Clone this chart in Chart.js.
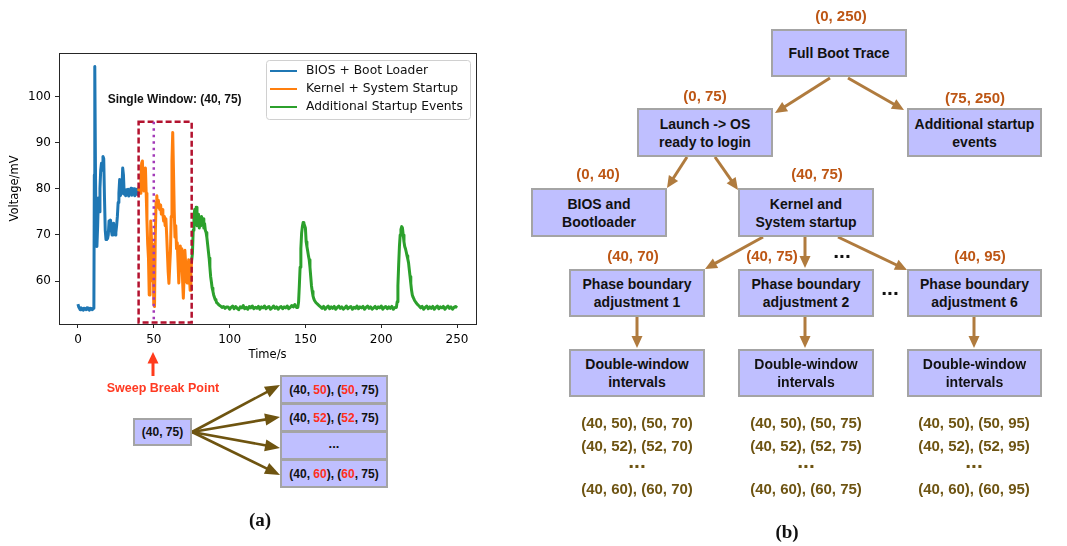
<!DOCTYPE html>
<html>
<head>
<meta charset="utf-8">
<script src="https://cdn.jsdelivr.net/npm/chart.js@4.4.0/dist/chart.umd.min.js"></script>
<style>
  html, body { margin: 0; padding: 0; background: #fff; }
  #fig { position: relative; width: 1067px; height: 546px; overflow: hidden;
         font-family: "Liberation Sans", Arial, Helvetica, sans-serif; }
  #trace { position: absolute; left: 0; top: 0; }
  #arrows { position: absolute; left: 0; top: 0; }
  .box { position: absolute; box-sizing: border-box; background: #bfbfff;
         border: 2.5px solid #a4a4a4; display: flex; align-items: center;
         justify-content: center; text-align: center; font-weight: bold;
         color: #111; font-size: 14px; line-height: 18px; }
  .mini { font-size: 12px; line-height: 14px; }
  .lbl { position: absolute; transform: translate(-50%, -50%); white-space: nowrap;
         font-weight: bold; line-height: 1; }
  .range { color: #bd5614; font-size: 15px; }
  .dots { color: #111; font-size: 21px; }
  .pairs { color: #6e5412; font-size: 15px; }
  .pdots { color: #6e5412; font-size: 21px; }
  .hot { color: #ff2f1c; }
  .panel { position: absolute; transform: translate(-50%, -50%); font-family: "Liberation Serif", "DejaVu Serif", serif;
           font-weight: bold; font-size: 19px; line-height: 1; color: #111; }
</style>
</head>
<body>
<div id="fig">
  <canvas id="trace" width="490" height="370"></canvas>
  <svg id="arrows" width="1067" height="546"></svg>

  <!-- sweep of the single window -->
  <div class="lbl" style="left:163px;top:388px;font-size:12.5px;color:#ff3a22;">Sweep Break Point</div>
  <div class="box mini" style="left:133px;top:418px;width:59px;height:28px;">(40, 75)</div>
  <div class="box mini" style="left:280px;top:375px;width:108px;height:29px;">(40,&nbsp;<span class="hot">50</span>),&nbsp;(<span class="hot">50</span>,&nbsp;75)</div>
  <div class="box mini" style="left:280px;top:403px;width:108px;height:29px;">(40,&nbsp;<span class="hot">52</span>),&nbsp;(<span class="hot">52</span>,&nbsp;75)</div>
  <div class="box mini" style="left:280px;top:431px;width:108px;height:29px;"><span style="position:relative;top:-2px;font-size:13px;">...</span></div>
  <div class="box mini" style="left:280px;top:459px;width:108px;height:29px;">(40,&nbsp;<span class="hot">60</span>),&nbsp;(<span class="hot">60</span>,&nbsp;75)</div>
  <div class="panel" style="left:260px;top:519px;">(a)</div>

  <!-- phase tree -->
  <div class="lbl range" style="left:841px;top:15px;">(0, 250)</div>
  <div class="box" style="left:771px;top:29px;width:136px;height:48px;">Full Boot Trace</div>

  <div class="lbl range" style="left:705px;top:95px;">(0, 75)</div>
  <div class="box" style="left:637px;top:108px;width:136px;height:49px;">Launch -&gt; OS<br>ready to login</div>
  <div class="lbl range" style="left:975px;top:97px;">(75, 250)</div>
  <div class="box" style="left:907px;top:108px;width:135px;height:49px;">Additional startup<br>events</div>

  <div class="lbl range" style="left:598px;top:173px;">(0, 40)</div>
  <div class="box" style="left:531px;top:188px;width:136px;height:49px;">BIOS and<br>Bootloader</div>
  <div class="lbl range" style="left:817px;top:173px;">(40, 75)</div>
  <div class="box" style="left:738px;top:188px;width:136px;height:49px;">Kernel and<br>System startup</div>

  <div class="lbl range" style="left:633px;top:255px;">(40, 70)</div>
  <div class="lbl range" style="left:772px;top:255px;">(40, 75)</div>
  <div class="lbl dots" style="left:842px;top:250px;">...</div>
  <div class="lbl range" style="left:980px;top:255px;">(40, 95)</div>

  <div class="box" style="left:569px;top:269px;width:136px;height:48px;">Phase boundary<br>adjustment 1</div>
  <div class="box" style="left:738px;top:269px;width:136px;height:48px;">Phase boundary<br>adjustment 2</div>
  <div class="lbl dots" style="left:890px;top:287px;">...</div>
  <div class="box" style="left:907px;top:269px;width:135px;height:48px;">Phase boundary<br>adjustment 6</div>

  <div class="box" style="left:569px;top:349px;width:136px;height:48px;">Double-window<br>intervals</div>
  <div class="box" style="left:738px;top:349px;width:136px;height:48px;">Double-window<br>intervals</div>
  <div class="box" style="left:907px;top:349px;width:135px;height:48px;">Double-window<br>intervals</div>

  <div class="lbl pairs" style="left:637px;top:422px;">(40, 50), (50, 70)</div>
  <div class="lbl pairs" style="left:637px;top:445px;">(40, 52), (52, 70)</div>
  <div class="lbl pdots" style="left:637px;top:460px;">...</div>
  <div class="lbl pairs" style="left:637px;top:488px;">(40, 60), (60, 70)</div>

  <div class="lbl pairs" style="left:806px;top:422px;">(40, 50), (50, 75)</div>
  <div class="lbl pairs" style="left:806px;top:445px;">(40, 52), (52, 75)</div>
  <div class="lbl pdots" style="left:806px;top:460px;">...</div>
  <div class="lbl pairs" style="left:806px;top:488px;">(40, 60), (60, 75)</div>

  <div class="lbl pairs" style="left:974px;top:422px;">(40, 50), (50, 95)</div>
  <div class="lbl pairs" style="left:974px;top:445px;">(40, 52), (52, 95)</div>
  <div class="lbl pdots" style="left:974px;top:460px;">...</div>
  <div class="lbl pairs" style="left:974px;top:488px;">(40, 60), (60, 95)</div>

  <div class="panel" style="left:787px;top:531px;">(b)</div>
</div>

<script>
// Boot power trace: [time (s), voltage (mV)]
const biosTrace = [
  [0,55.0],[0.5,54.4],[1,54.1],[1.5,53.8],[2,54.2],[2.5,53.9],[3,54.0],[3.5,53.7],[4,54.1],[4.5,53.9],
  [5,54.0],[5.5,53.8],[6,54.2],[6.5,53.9],[7,54.0],[7.5,53.7],[8,54.1],[8.5,53.9],[9,54.0],[9.5,53.8],
  [10,54.1],[10.5,54.3],[10.8,83.0],[11.0,75.0],[11.2,106.5],[11.6,82.0],[12.0,70.0],[12.5,67.5],
  [13.0,72.0],[13.5,78.0],[14.0,75.0],[14.5,80.0],[15.0,84.0],[15.5,85.5],[16.0,84.0],[16.5,87.0],
  [17.0,86.5],[17.5,78.0],[18.0,71.0],[18.5,69.0],[19.0,70.5],[19.5,69.2],[20.0,70.0],[20.5,73.0],
  [21.0,72.5],[21.5,73.2],[22.0,71.0],[22.5,70.0],[23.0,70.8],[23.5,72.5],[24.0,71.5],[24.5,70.0],
  [25.0,70.5],[25.5,72.0],[26.0,74.0],[26.5,77.0],[27.0,79.0],[27.5,82.0],[28.0,78.5],[28.5,79.0],
  [29.0,80.0],[29.5,84.5],[30.0,83.0],[30.5,78.8],[31.0,79.6],[31.5,78.5],[32.0,79.8],[32.5,78.7],
  [33.0,79.9],[33.5,78.4],[34.0,79.7],[34.5,78.9],[35.0,80.1],[35.5,78.6],[36.0,79.5],[36.5,78.8],
  [37.0,80.0],[37.5,78.5],[38.0,79.6],[38.5,78.9],[39.0,79.9],[39.5,78.7],[40.0,79.5]
];
const kernelTrace = [
  [40.0,79.5],[40.5,80.5],[41.0,79.0],[41.5,82.0],[42.0,85.5],[42.5,86.0],[43.0,81.0],[43.5,79.5],
  [44.0,83.0],[44.5,84.5],[45.0,79.0],[45.5,73.0],[46.0,68.0],[46.5,65.0],[47.0,57.0],[47.5,60.0],
  [48.0,73.0],[48.5,69.0],[49.0,60.0],[49.5,68.0],[50.0,55.0],[50.5,54.5],[51.0,70.0],[51.5,77.0],
  [52.0,78.5],[52.5,76.0],[53.0,77.5],[53.5,76.0],[54.0,75.5],[54.5,76.5],[55.0,74.5],[55.5,75.5],
  [56.0,74.5],[56.5,73.0],[57.0,74.0],[57.5,72.0],[58.0,73.5],[58.5,70.0],[59.0,66.0],[59.5,62.0],
  [60.0,59.5],[60.5,63.0],[61.0,66.5],[61.5,74.0],[62.0,86.0],[62.5,92.2],[63.0,84.0],[63.5,75.0],
  [64.0,69.5],[64.5,72.0],[65.0,67.0],[65.5,68.3],[66.0,64.0],[66.5,59.6],[67.0,63.0],[67.5,67.6],
  [68.0,64.0],[68.5,67.0],[69.0,60.0],[69.5,56.3],[70.0,61.0],[70.5,66.7],[71.0,64.0],[71.5,60.0],
  [72.0,59.6],[72.5,62.0],[73.0,64.6],[73.5,61.0],[74.0,58.0],[74.5,62.0],[75.0,64.5]
];
const extraTrace = [
  [75.0,64.5],[75.5,66.0],[76.0,71.0],[76.5,74.0],[77.0,75.5],[77.5,73.0],[78.0,76.0],[78.5,72.0],
  [79.0,73.5],[79.5,74.5],[80.0,71.5],[80.5,73.0],[81.0,72.0],[81.5,74.0],[82.0,72.5],[82.5,73.5],
  [83.0,71.5],[83.5,72.5],[84.0,71.0],[84.5,70.5],[85.0,69.5],[85.5,68.0],[86.0,66.5],[86.5,65.0],
  [87.0,63.0],[87.5,61.0],[88.0,59.8],[88.5,58.5],[89.0,57.8],[89.5,57.0],[90,56.5],[90.5,56.0],
  [91,55.8],[91.5,55.3],[92,55.2],[93,54.8],[94,54.6],[95,54.3],[96,54.5],[97,54.1],[98,54.4],
  [99,54.4],[100,53.9],[101,54.3],[102,54.6],[103,54.0],[104,54.5],[105,54.1],[106,53.8],[107,54.4],
  [108,54.2],[109,54.7],[110,54.0],[111,54.3],[112,53.9],[113,54.5],[114,54.2],[115,54.6],[116,54.0],
  [117,54.3],[118,54.1],[119,54.5],[120,53.9],[121,54.4],[122,54.2],[123,54.6],[124,54.0],[125,54.3],
  [126,54.5],[127,53.9],[128,54.2],[129,54.6],[130,54.1],[131,54.4],[132,53.9],[133,54.3],[134,54.5],
  [135,54.0],[136,54.4],[137,54.2],[138,54.6],[139,54.0],[140,54.3],[141,54.7],[142,54.4],[143,54.9],
  [144,54.3],[145,54.3],[145.5,55.5],[146,59.0],[146.5,63.0],[147,67.0],[147.5,70.4],[148,71.8],
  [148.5,72.7],[149,72.5],[149.5,72.0],[150,71.5],[150.5,68.5],[151,67.5],[151.5,66.5],[152,65.5],
  [152.5,64.6],[153,63.0],[153.5,61.0],[154,59.0],[154.5,57.8],[155,56.8],[155.5,56.2],[156,55.8],
  [157,55.3],[158,55.0],[159,54.7],[160,54.4],[161,54.1],[162,54.5],[163,53.9],[164,54.3],[165,54.6],
  [166,54.0],[167,54.4],[168,54.1],[169,54.5],[170,53.9],[171,54.3],[172,54.6],[173,54.1],[174,54.4],
  [175,53.9],[176,54.2],[177,54.6],[178,54.0],[179,54.3],[180,54.5],[181,53.9],[182,54.3],[183,54.1],
  [184,54.6],[185,54.0],[186,54.4],[187,54.2],[188,54.5],[189,53.9],[190,54.3],[191,54.6],[192,54.1],
  [193,54.4],[194,53.9],[195,54.2],[196,54.5],[197,54.0],[198,54.4],[199,54.2],[200,54.6],[201,53.9],
  [202,54.3],[203,54.5],[204,54.0],[205,54.4],[206,54.1],[207,54.5],[208,53.9],[209,54.3],[210,54.3],
  [210.5,55.5],[211,59.0],[211.5,63.5],[212,67.5],[212.5,70.0],[213,71.2],[213.5,71.8],[214,71.5],
  [214.5,70.0],[215,68.5],[215.5,67.5],[216,67.0],[216.5,66.3],[217,65.5],[217.5,64.8],[218,64.0],
  [218.5,62.5],[219,61.0],[219.5,59.5],[220,58.0],[220.5,57.0],[221,56.5],[222,55.8],[223,55.3],
  [224,54.9],[225,54.6],[226,54.2],[227,54.5],[228,53.9],[229,54.3],[230,54.6],[231,54.0],[232,54.4],
  [233,54.1],[234,54.5],[235,53.9],[236,54.3],[237,54.6],[238,54.0],[239,54.4],[240,54.2],[241,54.5],
  [242,53.9],[243,54.3],[244,54.6],[245,54.1],[246,54.4],[247,53.9],[248,54.3],[249,54.5],[250,54.2]
];

const seriesNames = ['BIOS + Boot Loader', 'Kernel + System Startup', 'Additional Startup Events'];
const timeTicks = [0, 50, 100, 150, 200, 250];
const voltTicks = [60, 70, 80, 90, 100];

// single analysis window and its sweep break point
const windowSpan = [40, 75];
const windowVolts = [51, 94.5];
const sweepPoint = 50;

const COLORS = ['#1f77b4', '#ff7f0e', '#2ca02c'];
const AXIS = '#262626';
const tickFont = { family: 'DejaVu Sans', size: 12 };
const titleFont = { family: 'DejaVu Sans', size: 11.5 };

const toXY = arr => arr.map(p => ({ x: p[0], y: p[1] }));

const frameAndNotes = {
  id: 'frameAndNotes',
  afterDatasetsDraw(chart) {
    const { ctx, chartArea: ca, scales: { x, y } } = chart;
    ctx.save();
    // single window box
    const x0 = x.getPixelForValue(windowSpan[0]), x1 = x.getPixelForValue(windowSpan[1]);
    const y0 = y.getPixelForValue(windowVolts[1]), y1 = y.getPixelForValue(windowVolts[0]);
    ctx.strokeStyle = '#b3122f';
    ctx.lineWidth = 2.5;
    ctx.setLineDash([6, 3]);
    ctx.strokeRect(x0, y0, x1 - x0, y1 - y0);
    // sweep break point
    const xs = x.getPixelForValue(sweepPoint);
    ctx.strokeStyle = '#a33ab8';
    ctx.setLineDash([2.5, 4]);
    ctx.beginPath();
    ctx.moveTo(xs, y0);
    ctx.lineTo(xs, y1);
    ctx.stroke();
    ctx.setLineDash([]);
    // caption
    ctx.fillStyle = '#111';
    ctx.font = 'bold 12px "Liberation Sans", Arial, sans-serif';
    ctx.textBaseline = 'middle';
    ctx.textAlign = 'left';
    ctx.fillText('Single Window: (40, 75)', x.getPixelForValue(19.6), y.getPixelForValue(99.3));
    ctx.restore();
  },
  afterDraw(chart) {
    const { ctx, chartArea: ca } = chart;
    ctx.save();
    // frame
    ctx.strokeStyle = AXIS;
    ctx.lineWidth = 1;
    const l = Math.round(ca.left) + 0.5, t = Math.round(ca.top) + 0.5;
    const r = Math.round(ca.right) + 0.5, b = Math.round(ca.bottom) + 0.5;
    ctx.strokeRect(l, t, r - l, b - t);
    // legend
    const bx = ca.right - 210, by = ca.top + 7, bw = 204, bh = 59;
    ctx.fillStyle = 'rgba(255,255,255,0.85)';
    ctx.strokeStyle = '#d0d0d0';
    ctx.lineWidth = 1;
    ctx.beginPath();
    ctx.roundRect(bx + 0.5, by + 0.5, bw, bh, 3);
    ctx.fill();
    ctx.stroke();
    ctx.font = '12.3px "DejaVu Sans"';
    ctx.textBaseline = 'middle';
    ctx.textAlign = 'left';
    chart.data.datasets.forEach((ds, i) => {
      const ry = by + 11 + i * 18;
      ctx.strokeStyle = ds.borderColor;
      ctx.lineWidth = 2;
      ctx.beginPath();
      ctx.moveTo(bx + 4, ry);
      ctx.lineTo(bx + 31, ry);
      ctx.stroke();
      ctx.fillStyle = '#111';
      ctx.fillText(ds.label, bx + 40, ry);
    });
    ctx.restore();
  }
};

new Chart(document.getElementById('trace'), {
  type: 'line',
  data: {
    datasets: [biosTrace, kernelTrace, extraTrace].map((arr, i) => ({
      label: seriesNames[i],
      data: toXY(arr),
      borderColor: COLORS[i],
      backgroundColor: COLORS[i],
      borderWidth: 3,
      pointRadius: 0,
      tension: 0,
      borderJoinStyle: 'round',
      order: 2 - i
    }))
  },
  options: {
    responsive: false,
    animation: false,
    events: [],
    layout: { padding: { top: 53, right: 14, left: 0, bottom: 0 } },
    plugins: { legend: { display: false }, tooltip: { enabled: false } },
    scales: {
      x: {
        type: 'linear', min: -12.5, max: 262.5,
        afterBuildTicks: s => { s.ticks = timeTicks.map(v => ({ value: v })); },
        afterFit: s => { s.height = 46; },
        grid: { drawOnChartArea: false, drawTicks: true, tickLength: 4, color: AXIS },
        border: { display: true, color: AXIS, width: 1 },
        ticks: { font: tickFont, color: '#000', padding: 5, maxRotation: 0, autoSkip: false },
        title: { display: true, text: 'Time/s', font: titleFont, color: '#000', padding: { top: 0, bottom: 8 } }
      },
      y: {
        type: 'linear', min: 50.7, max: 109.4,
        afterBuildTicks: s => { s.ticks = voltTicks.map(v => ({ value: v })); },
        afterFit: s => { s.width = 59; },
        grid: { drawOnChartArea: false, drawTicks: true, tickLength: 4, color: AXIS },
        border: { display: true, color: AXIS, width: 1 },
        ticks: { font: tickFont, color: '#000', padding: 4, autoSkip: false },
        title: { display: true, text: 'Voltage/mV', font: titleFont, color: '#000', padding: { top: 8, bottom: 0 } }
      }
    }
  },
  plugins: [frameAndNotes]
});

// connector arrows of both diagrams
const svg = document.getElementById('arrows');
const NS = 'http://www.w3.org/2000/svg';
function arrow(x1, y1, x2, y2, color, width, headLen, headW) {
  const dx = x2 - x1, dy = y2 - y1, L = Math.hypot(dx, dy);
  const ux = dx / L, uy = dy / L;
  const bx = x2 - ux * headLen, by = y2 - uy * headLen;
  const line = document.createElementNS(NS, 'line');
  line.setAttribute('x1', x1); line.setAttribute('y1', y1);
  line.setAttribute('x2', bx + ux); line.setAttribute('y2', by + uy);
  line.setAttribute('stroke', color); line.setAttribute('stroke-width', width);
  svg.appendChild(line);
  const head = document.createElementNS(NS, 'polygon');
  const pts = [[x2, y2], [bx - uy * headW / 2, by + ux * headW / 2], [bx + uy * headW / 2, by - ux * headW / 2]];
  head.setAttribute('points', pts.map(p => p.join(',')).join(' '));
  head.setAttribute('fill', color);
  svg.appendChild(head);
}
const TREE = '#b07b3e';
[[830, 78, 775, 113], [848, 78, 904, 110], [687, 157, 667, 188], [715, 157, 738, 190],
 [763, 237, 705, 269], [805, 237, 805, 268], [838, 237, 907, 270],
 [637, 317, 637, 348], [805, 317, 805, 348], [974, 317, 974, 348]]
  .forEach(a => arrow(a[0], a[1], a[2], a[3], TREE, 3, 12, 11));
const SWEEP = '#6e5410';
[[192, 432, 280, 385], [192, 432, 280, 417], [192, 432, 280, 448], [192, 432, 280, 475]]
  .forEach(a => arrow(a[0], a[1], a[2], a[3], SWEEP, 2.6, 15, 12));
arrow(153, 376, 153, 352, '#ff3b1c', 3, 11.5, 11);
</script>
</body>
</html>
